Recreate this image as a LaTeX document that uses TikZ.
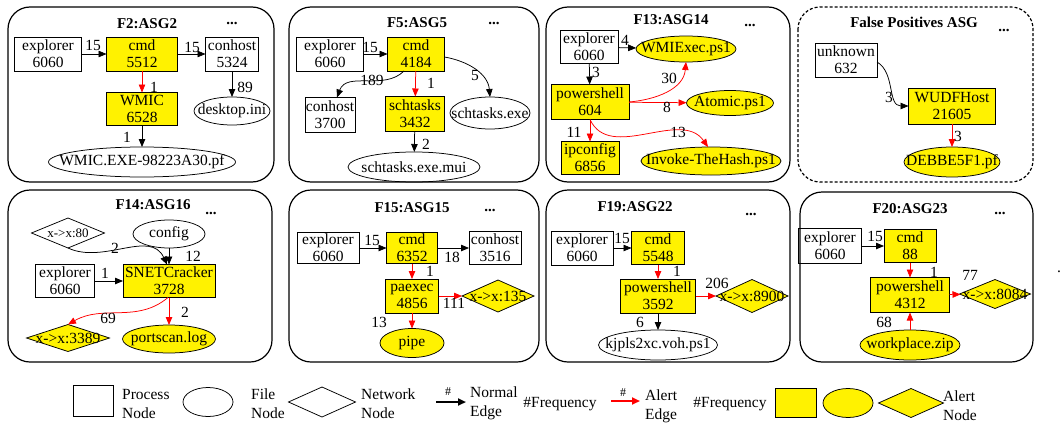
\documentclass[tikz,border=0pt]{standalone}
\usepackage{fontspec}
\setmainfont{Liberation Serif}
\usetikzlibrary{shapes.geometric,arrows.meta,calc}
\newcommand{\nfont}{\fontsize{15.5}{17}\selectfont}
\newcommand{\lfont}{\fontsize{15.5}{19}\selectfont}
\newcommand{\tfont}{\fontsize{15}{17}\selectfont\bfseries}
\newcommand{\sfont}{\fontsize{13}{15}\selectfont}
\newcommand{\hfont}{\fontsize{12}{14}\selectfont}
\begin{document}
\begin{tikzpicture}[x=1pt,y=-1pt,font=\nfont,
  shp/.style={draw, line width=0.75pt, inner sep=0pt, outer sep=0pt},
  lbl/.style={align=center, inner sep=0pt},
  pnode/.style n args={3}{shp, rectangle, minimum width=#1pt, minimum height=#2pt, label={[lbl]center:{#3}}},
  fnode/.style n args={3}{shp, ellipse, minimum width=#1pt, minimum height=#2pt, label={[lbl]center:{#3}}},
  nnode/.style n args={3}{shp, diamond, minimum width=#1pt, minimum height=#2pt, label={[lbl]center:{#3}}},
  al/.style={fill=yellow},
  panel/.style={draw, line width=1.2pt, rounded corners=22pt},
  ttl/.style={font=\tfont, inner sep=0pt},
  el/.style={inner sep=0pt},
  ltxt/.style={anchor=west, align=left, font=\lfont, inner sep=0pt},
  ne/.style={-{Triangle[length=8pt,width=6.5pt]}, line width=0.75pt},
  ae/.style={ne, red},
  legarrow/.style={-{Triangle[length=8pt,width=7pt]}, line width=2pt},
]
\useasboundingbox (0,0) rectangle (1062,423);

% ---------- Panel 1 ----------
\draw[panel] (8,7) rectangle (274,182);
\node[ttl] (t1) at (147,24) {F2:ASG2};
\node[ttl] (d1) at (232,23) {...};
\node[pnode={67}{34}{explorer\\6060}] (ex1) at (48,54) {};
\node[pnode={71}{34}{cmd\\5512}, al] (cmd1) at (142,54) {};
\node[pnode={53}{34}{conhost\\5324}] (con1) at (232,54) {};
\node[pnode={71}{33}{WMIC\\6528}, al] (wm1) at (142,109) {};
\node[fnode={76}{28}{desktop.ini}] (dt1) at (232,111) {};
\node[fnode={187}{30}{WMIC.EXE-98223A30.pf}] (wf1) at (142,162) {};
\draw[ne] (ex1) -- (cmd1);
\draw[ne] (cmd1) -- (con1);
\draw[ae] (cmd1) -- (wm1);
\draw[ne] (con1) -- (dt1);
\draw[ne] (wm1) -- (wf1);
\node[el] (l1a) at (93,45) {15};
\node[el] (l1b) at (192,47) {15};
\node[el] (l1c) at (154,87) {1};
\node[el] (l1d) at (245,87) {89};
\node[el] (l1e) at (127,137) {1};

% ---------- Panel 2 ----------
\draw[panel] (289,7) rectangle (539,182);
\node[ttl] (t2) at (417,23) {F5:ASG5};
\node[ttl] (d2) at (494,23) {...};
\node[pnode={67}{34}{explorer\\6060}] (ex2) at (330,54) {};
\node[pnode={57}{34}{cmd\\4184}, al] (cmd2) at (416,54) {};
\node[pnode={50}{35}{conhost\\3700}] (con2) at (330,115) {};
\node[pnode={59}{35}{schtasks\\3432}, al] (sch2) at (415,114) {};
\node[fnode={80}{32}{schtasks.exe}] (se2) at (490,113) {};
\node[fnode={132}{30}{schtasks.exe.mui}] (mui2) at (414,167) {};
\draw[ne] (ex2) -- (cmd2);
\draw[ne] ($(cmd2.south)+(-12,0)$) to[out=-135,in=70] ($(con2.north)+(7,0)$);
\draw[ne] ($(cmd2.east)+(0,3)$) to[out=-10,in=95] (se2.north);
\draw[ae] (cmd2) -- (sch2);
\draw[ne] (sch2) -- (mui2);
\node[el] (l2a) at (370,47) {15};
\node[el] (l2b) at (372,80) {189};
\node[el] (l2c) at (431,83) {1};
\node[el] (l2d) at (475,75) {5};
\node[el] (l2e) at (426,144) {2};

% ---------- Panel 3 ----------
\draw[panel] (546,7) rectangle (790,182);
\node[ttl] (t3) at (671,20) {F13:ASG14};
\node[ttl] (d3) at (750,25) {...};
\node[pnode={58}{33}{explorer\\6060}] (ex3) at (589,47) {};
\node[fnode={100}{26}{WMIExec.ps1}, al] (wmi3) at (686,49) {};
\node[pnode={78}{35}{powershell\\604}, al] (ps3) at (590,102) {};
\node[fnode={87}{25}{Atomic.ps1}, al] (at3) at (730,103) {};
\node[pnode={58}{33}{ipconfig\\6856}, al] (ip3) at (590,158) {};
\node[fnode={140}{28}{Invoke-TheHash.ps1}, al] (inv3) at (711,161) {};
\draw[ne] (ex3) -- (wmi3);
\draw[ne] (ex3) -- (ps3);
\draw[ae] (ps3.east) to[out=5,in=-95] (wmi3.south);
\draw[ae] (ps3) -- (at3);
\draw[ae] (ps3) -- (ip3);
\draw[ae] (ps3.south) to[out=-65,in=125] ($(inv3.north)+(-3,0)$);
\node[el] (l3a) at (625,40) {4};
\node[el] (l3b) at (596,72) {3};
\node[el] (l3c) at (669,78) {30};
\node[el] (l3d) at (667,107) {8};
\node[el] (l3e) at (574,132) {11};
\node[el] (l3f) at (678,132) {13};

% ---------- Panel 4 ----------
\draw[panel, dash pattern=on 3pt off 2pt] (798,7) rectangle (1033,182);
\node[ttl] (t4) at (914,22) {False Positives ASG};
\node[ttl] (d4) at (1004,30) {...};
\node[pnode={62}{34}{unknown\\632}] (unk4) at (846,60) {};
\node[pnode={87}{36}{WUDFHost\\21605}, al] (wud4) at (952,106) {};
\node[fnode={96}{30}{DEBBE5F1.pf}, al] (deb4) at (952,162) {};
\draw[ne] ($(unk4.east)+(0,2)$) to[out=-30,in=180] (wud4.west);
\draw[ae] (wud4) -- (deb4);
\node[el] (l4a) at (889,97) {3};
\node[el] (l4b) at (958,136) {3};

% ---------- Panel 5 ----------
\draw[panel] (8,190) rectangle (272,362);
\node[ttl] (t5) at (153,205) {F14:ASG16};
\node[ttl] (d5) at (211,213) {...};
\node[nnode={73}{30}{\sfont x->x:80}] (d80) at (68,233) {};
\node[fnode={72}{28}{config}] (cfg5) at (169,234) {};
\node[pnode={59}{33}{explorer\\6060}] (ex5) at (65,281) {};
\node[pnode={92}{33}{SNETCracker\\3728}, al] (sn5) at (169,281) {};
\node[nnode={83}{27}{x->x:3389}, al] (d3389) at (68,338) {};
\node[fnode={93}{28}{portscan.log}, al] (pl5) at (169,339) {};
\draw[ne] (d80.south) to[out=-25,in=115] ($(sn5.north)+(-2,0)$);
\draw[ne] (cfg5) -- (sn5);
\draw[ne] (ex5) -- (sn5);
\draw[ae] ($(sn5.south)+(-1,0)$) to[out=-140,in=30] (d3389.north);
\draw[ae] (sn5) -- (pl5);
\node[el] (l5a) at (115,248) {2};
\node[el] (l5b) at (193,256) {12};
\node[el] (l5c) at (105,273) {1};
\node[el] (l5d) at (108,318) {69};
\node[el] (l5e) at (185,312) {2};

% ---------- Panel 6 ----------
\draw[panel] (289,190) rectangle (539,362);
\node[ttl] (t6) at (412,208) {F15:ASG15};
\node[ttl] (d6) at (490,210) {...};
\node[pnode={62}{31}{explorer\\6060}] (ex6) at (328,248) {};
\node[pnode={51}{31}{cmd\\6352}, al] (cmd6) at (412,248) {};
\node[pnode={52}{33}{conhost\\3516}] (con6) at (495,248) {};
\node[pnode={53}{34}{paexec\\4856}, al] (pae6) at (412,296) {};
\node[nnode={72}{32}{x->x:135}, al] (d135) at (498,296) {};
\node[fnode={64}{29}{pipe}, al] (pipe6) at (412,343) {};
\draw[ne] (ex6) -- (cmd6);
\draw[ne] (cmd6) -- (con6);
\draw[ae] (cmd6) -- (pae6);
\draw[ae] (pae6) -- (d135);
\draw[ae] (pae6) -- (pipe6);
\node[el] (l6a) at (372,240) {15};
\node[el] (l6b) at (452,257) {18};
\node[el] (l6c) at (430,271) {1};
\node[el] (l6d) at (454,303) {111};
\node[el] (l6e) at (379,322) {13};

% ---------- Panel 7 ----------
\draw[panel] (546,190) rectangle (790,362);
\node[ttl] (t7) at (635,207) {F19:ASG22};
\node[ttl] (d7) at (751,214) {...};
\node[pnode={62}{34}{explorer\\6060}] (ex7) at (582,248) {};
\node[pnode={53}{33}{cmd\\5548}, al] (cmd7) at (658,248) {};
\node[pnode={75}{34}{powershell\\3592}, al] (ps7) at (658,296) {};
\node[nnode={72}{33}{x->x:8900}, al] (d8900) at (752,296) {};
\node[fnode={119}{30}{kjpls2xc.voh.ps1}] (kj7) at (658,345) {};
\draw[ne] (ex7) -- (cmd7);
\draw[ae] (cmd7) -- (ps7);
\draw[ae] (ps7) -- (d8900);
\draw[ne] (ps7) -- (kj7);
\node[el] (l7a) at (622,238) {15};
\node[el] (l7b) at (677,271) {1};
\node[el] (l7c) at (717,283) {206};
\node[el] (l7d) at (640,322) {6};

% ---------- Panel 8 ----------
\draw[panel] (800,192) rectangle (1033,362);
\node[ttl] (t8) at (910,209) {F20:ASG23};
\node[ttl] (d8) at (1000,213) {...};
\node[pnode={63}{35}{explorer\\6060}] (ex8) at (830,246) {};
\node[pnode={52}{33}{cmd\\88}, al] (cmd8) at (910,246) {};
\node[pnode={79}{35}{powershell\\4312}, al] (ps8) at (910,295) {};
\node[nnode={71}{29}{x->x:8084}, al] (d8084) at (995,294) {};
\node[fnode={100}{30}{workplace.zip}, al] (wz8) at (910,345) {};
\draw[ne] (ex8) -- (cmd8);
\draw[ae] (cmd8) -- (ps8);
\draw[ae] (ps8) -- (d8084);
\draw[ae] (wz8) -- (ps8);
\node[el] (l8a) at (875,236) {15};
\node[el] (l8b) at (934,272) {1};
\node[el] (l8c) at (970,275) {77};
\node[el] (l8d) at (884,322) {68};
\node[el] (dot) at (1059,272) {.};

% ---------- Legend ----------
\node[pnode={40}{31}{}] (lp) at (93,401) {};
\node[ltxt] (lpt) at (122,403.5) {Process\\Node};
\node[fnode={50}{29}{}] (lf) at (208,402) {};
\node[ltxt] (lft) at (251,403.5) {File\\Node};
\node[nnode={67}{30}{}] (ln) at (322,402) {};
\node[ltxt] (lnt) at (361,403.5) {Network\\Node};
\coordinate (la1) at (436,402);
\coordinate (la2) at (466,402);
\draw[legarrow] (la1) -- (la2);
\node[el, font=\hfont] (lah) at (448,392) {\#};
\node[ltxt] (lat) at (470,403.5) {Normal\\Edge};
\node[el] (lfq1) at (560,404) {\#Frequency};
\coordinate (lb1) at (611,401);
\coordinate (lb2) at (640,401);
\draw[legarrow, red] (lb1) -- (lb2);
\node[el, font=\hfont] (lbh) at (623,393) {\#};
\node[ltxt] (lbt) at (645,406) {Alert\\Edge};
\node[el] (lfq2) at (730,404) {\#Frequency};
\node[pnode={41}{29}{}, al] (lyp) at (796,403) {};
\node[fnode={50}{29}{}, al] (lyf) at (848,403) {};
\node[nnode={65}{29}{}, al] (lyn) at (911,403) {};
\node[ltxt] (lyt) at (943,406) {Alert\\Node};
\end{tikzpicture}
\end{document}
